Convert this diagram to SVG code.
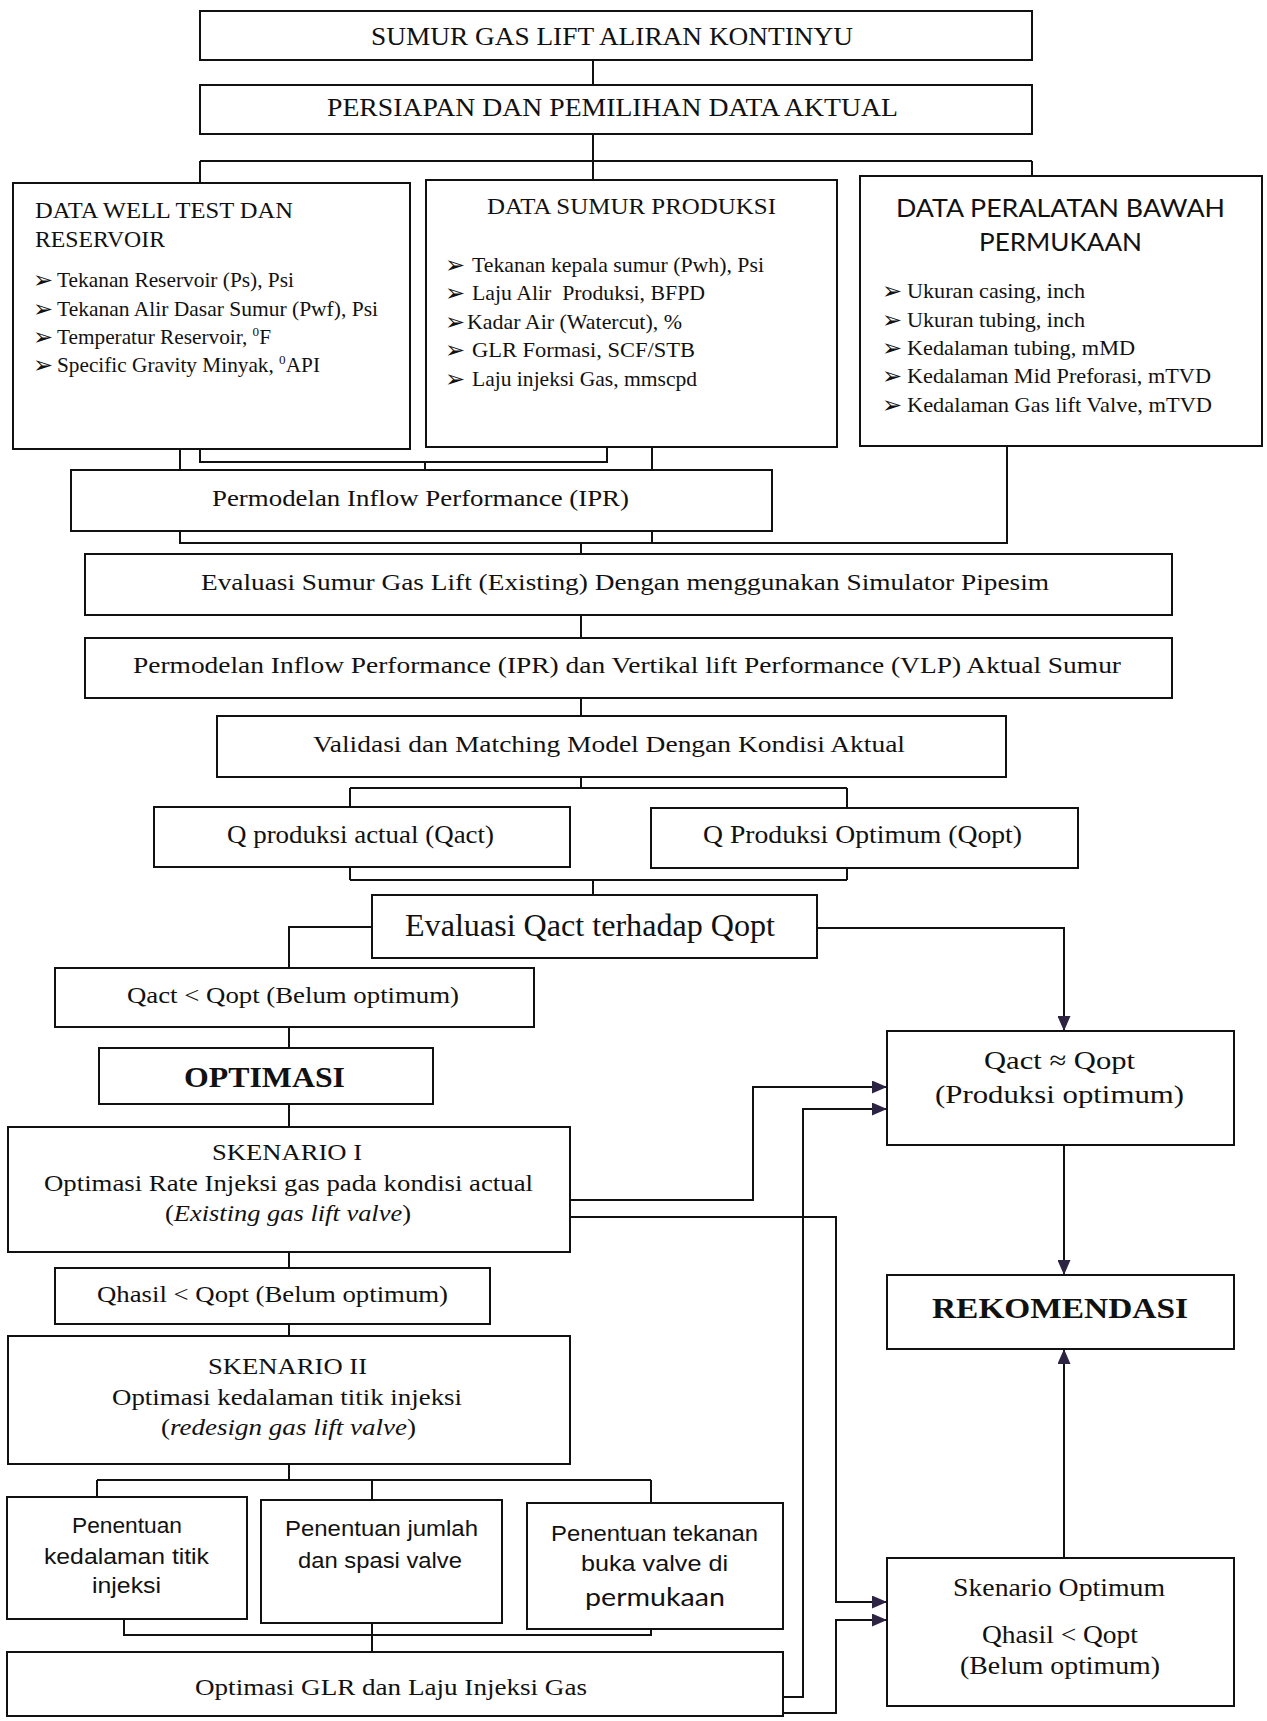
<svg xmlns="http://www.w3.org/2000/svg" width="1267" height="1721" viewBox="0 0 1267 1721">
<style>
.b{fill:#fff;stroke:#111;stroke-width:2}
.c{fill:none;stroke:#111;stroke-width:2}
.a{fill:none;stroke:#111;stroke-width:2;marker-end:url(#ah)}
.t{font-family:"Liberation Serif","Times New Roman",serif;fill:#111}
.s{font-family:"Liberation Sans",Arial,sans-serif;fill:#111}
.k{font-family:Lato,"Liberation Sans",sans-serif;fill:#111}
.u{font-family:"DejaVu Sans",sans-serif;fill:#111;font-size:24px}
</style>
<defs>
<marker id="ah" markerUnits="userSpaceOnUse" markerWidth="15" markerHeight="13" refX="15" refY="6.5" orient="auto">
<path d="M0,0 L15,6.5 L0,13 z" fill="#2d2444"/>
</marker>
</defs>
<g id="connectors">
<path class="c" d="M593,60 V85"/>
<path class="c" d="M593,134 V161 M200,161 H1032 M200,161 V183 M593,161 V180 M1032,161 V176"/>
<path class="c" d="M180,449 V470 M200,449 V462 H607 V447 M425,462 V470 M652,447 V470"/>
<path class="c" d="M180,531 V543 H1007 V446 M652,531 V543 M581,543 V554"/>
<path class="c" d="M581,615 V638 M581,698 V716"/>
<path class="c" d="M581,777 V788 M350,788 H847 M350,788 V807 M847,788 V808"/>
<path class="c" d="M350,867 V880 M847,868 V880 M350,880 H847 M593,880 V895"/>
<path class="c" d="M372,927 H289 V968"/>
<path class="a" d="M817,928 H1064 V1031"/>
<path class="c" d="M289,1027 V1048 M289,1104 V1127 M289,1252 V1268 M289,1324 V1336"/>
<path class="c" d="M289,1464 V1480 M97,1480 H651 M97,1480 V1497 M372,1480 V1500 M651,1480 V1503"/>
<path class="c" d="M124,1619 V1635 H651 V1629 M372,1623 V1652"/>
<path class="a" d="M570,1200 H753 V1087 H887"/>
<path class="a" d="M570,1217 H836 V1602 H887"/>
<path class="a" d="M782,1697 H803 V1109 H887"/>
<path class="a" d="M782,1713 H836 V1620 H887"/>
<path class="a" d="M1064,1145 V1275"/>
<path class="a" d="M1064,1558 V1349"/>
</g>
<g id="n1"><rect class="b" x="200" y="11" width="832" height="49"/>
<text class="t" x="371" y="45" font-size="25" textLength="482" lengthAdjust="spacingAndGlyphs">SUMUR GAS LIFT ALIRAN KONTINYU</text></g>
<g id="n2"><rect class="b" x="200" y="85" width="832" height="49"/>
<text class="t" x="327" y="116" font-size="25" textLength="571" lengthAdjust="spacingAndGlyphs">PERSIAPAN DAN PEMILIHAN DATA AKTUAL</text></g>
<g id="n3"><rect class="b" x="13" y="183" width="397" height="266"/>
<text class="t" x="35" y="218" font-size="23" textLength="258" lengthAdjust="spacingAndGlyphs">DATA WELL TEST DAN</text>
<text class="t" x="35" y="247" font-size="23" textLength="130" lengthAdjust="spacingAndGlyphs">RESERVOIR</text>
<text class="u" x="33" y="288">➢</text><text class="t" x="57" y="287" font-size="21" textLength="237" lengthAdjust="spacingAndGlyphs">Tekanan Reservoir (Ps), Psi</text>
<text class="u" x="33" y="317">➢</text><text class="t" x="57" y="316" font-size="21" textLength="321" lengthAdjust="spacingAndGlyphs">Tekanan Alir Dasar Sumur (Pwf), Psi</text>
<text class="u" x="33" y="345">➢</text><text class="t" x="57" y="344" font-size="21" textLength="214" lengthAdjust="spacingAndGlyphs">Temperatur Reservoir, <tspan font-size="13" dy="-8">0</tspan><tspan dy="8">F</tspan></text>
<text class="u" x="33" y="373">➢</text><text class="t" x="57" y="372" font-size="21" textLength="263" lengthAdjust="spacingAndGlyphs">Specific Gravity Minyak, <tspan font-size="13" dy="-8">0</tspan><tspan dy="8">API</tspan></text>
</g>
<g id="n4"><rect class="b" x="426" y="180" width="411" height="267"/>
<text class="t" x="487" y="214" font-size="23" textLength="289" lengthAdjust="spacingAndGlyphs">DATA SUMUR PRODUKSI</text>
<text class="u" x="445" y="273">➢</text><text class="t" x="472" y="272" font-size="21" textLength="292" lengthAdjust="spacingAndGlyphs">Tekanan kepala sumur (Pwh), Psi</text>
<text class="u" x="445" y="301">➢</text><text class="t" x="472" y="300" font-size="21" textLength="233" lengthAdjust="spacingAndGlyphs" xml:space="preserve">Laju Alir  Produksi, BFPD</text>
<text class="u" x="445" y="330">➢</text><text class="t" x="467" y="329" font-size="21" textLength="215" lengthAdjust="spacingAndGlyphs">Kadar Air (Watercut), %</text>
<text class="u" x="445" y="358">➢</text><text class="t" x="472" y="357" font-size="21" textLength="223" lengthAdjust="spacingAndGlyphs">GLR Formasi, SCF/STB</text>
<text class="u" x="445" y="387">➢</text><text class="t" x="472" y="386" font-size="21" textLength="225" lengthAdjust="spacingAndGlyphs">Laju injeksi Gas, mmscpd</text>
</g>
<g id="n5"><rect class="b" x="860" y="176" width="402" height="270"/>
<text class="k" x="896" y="217" font-size="25" textLength="329" lengthAdjust="spacingAndGlyphs">DATA PERALATAN BAWAH</text>
<text class="k" x="979" y="251" font-size="25" textLength="163" lengthAdjust="spacingAndGlyphs">PERMUKAAN</text>
<text class="u" x="882" y="299">➢</text><text class="t" x="907" y="298" font-size="21" textLength="178" lengthAdjust="spacingAndGlyphs">Ukuran casing, inch</text>
<text class="u" x="882" y="328">➢</text><text class="t" x="907" y="327" font-size="21" textLength="178" lengthAdjust="spacingAndGlyphs">Ukuran tubing, inch</text>
<text class="u" x="882" y="356">➢</text><text class="t" x="907" y="355" font-size="21" textLength="228" lengthAdjust="spacingAndGlyphs">Kedalaman tubing, mMD</text>
<text class="u" x="882" y="384">➢</text><text class="t" x="907" y="383" font-size="21" textLength="304" lengthAdjust="spacingAndGlyphs">Kedalaman Mid Preforasi, mTVD</text>
<text class="u" x="882" y="413">➢</text><text class="t" x="907" y="412" font-size="21" textLength="305" lengthAdjust="spacingAndGlyphs">Kedalaman Gas lift Valve, mTVD</text>
</g>
<g id="n6"><rect class="b" x="71" y="470" width="701" height="61"/>
<text class="t" x="212" y="506" font-size="24" textLength="417" lengthAdjust="spacingAndGlyphs">Permodelan Inflow Performance (IPR)</text></g>
<g id="n7"><rect class="b" x="85" y="554" width="1087" height="61"/>
<text class="t" x="201" y="590" font-size="24" textLength="848" lengthAdjust="spacingAndGlyphs">Evaluasi Sumur Gas Lift (Existing) Dengan menggunakan Simulator Pipesim</text></g>
<g id="n8"><rect class="b" x="85" y="638" width="1087" height="60"/>
<text class="t" x="133" y="673" font-size="24" textLength="988" lengthAdjust="spacingAndGlyphs">Permodelan Inflow Performance (IPR) dan Vertikal lift Performance (VLP) Aktual Sumur</text></g>
<g id="n9"><rect class="b" x="217" y="716" width="789" height="61"/>
<text class="t" x="313" y="752" font-size="24" textLength="592" lengthAdjust="spacingAndGlyphs">Validasi dan Matching Model Dengan Kondisi Aktual</text></g>
<g id="n10"><rect class="b" x="154" y="807" width="416" height="60"/>
<text class="t" x="227" y="843" font-size="25" textLength="267" lengthAdjust="spacingAndGlyphs">Q produksi actual (Qact)</text></g>
<g id="n11"><rect class="b" x="651" y="808" width="427" height="60"/>
<text class="t" x="703" y="843" font-size="25" textLength="319" lengthAdjust="spacingAndGlyphs">Q Produksi Optimum (Qopt)</text></g>
<g id="n12"><rect class="b" x="372" y="895" width="445" height="63"/>
<text class="t" x="405" y="936" font-size="32" textLength="370" lengthAdjust="spacingAndGlyphs">Evaluasi Qact terhadap Qopt</text></g>
<g id="n13"><rect class="b" x="55" y="968" width="479" height="59"/>
<text class="t" x="127" y="1003" font-size="24" textLength="332" lengthAdjust="spacingAndGlyphs">Qact &lt; Qopt (Belum optimum)</text></g>
<g id="n14"><rect class="b" x="99" y="1048" width="334" height="56"/>
<text class="t" x="184" y="1087" font-size="29" font-weight="bold" textLength="161" lengthAdjust="spacingAndGlyphs">OPTIMASI</text></g>
<g id="n15"><rect class="b" x="8" y="1127" width="562" height="125"/>
<text class="t" x="212" y="1160" font-size="24" textLength="150" lengthAdjust="spacingAndGlyphs">SKENARIO I</text>
<text class="t" x="44" y="1191" font-size="24" textLength="489" lengthAdjust="spacingAndGlyphs">Optimasi Rate Injeksi gas pada kondisi actual</text>
<text class="t" x="165" y="1221" font-size="24" textLength="246" lengthAdjust="spacingAndGlyphs">(<tspan font-style="italic">Existing gas lift valve</tspan>)</text></g>
<g id="n16"><rect class="b" x="55" y="1268" width="435" height="56"/>
<text class="t" x="97" y="1302" font-size="24" textLength="351" lengthAdjust="spacingAndGlyphs">Qhasil &lt; Qopt (Belum optimum)</text></g>
<g id="n17"><rect class="b" x="8" y="1336" width="562" height="128"/>
<text class="t" x="208" y="1374" font-size="24" textLength="159" lengthAdjust="spacingAndGlyphs">SKENARIO II</text>
<text class="t" x="112" y="1405" font-size="24" textLength="350" lengthAdjust="spacingAndGlyphs">Optimasi kedalaman titik injeksi</text>
<text class="t" x="161" y="1435" font-size="24" textLength="255" lengthAdjust="spacingAndGlyphs">(<tspan font-style="italic">redesign gas lift valve</tspan>)</text></g>
<g id="n18"><rect class="b" x="7" y="1497" width="240" height="122"/>
<text class="s" x="72" y="1533" font-size="22" textLength="110" lengthAdjust="spacingAndGlyphs">Penentuan</text>
<text class="s" x="44" y="1564" font-size="22" textLength="165" lengthAdjust="spacingAndGlyphs">kedalaman titik</text>
<text class="s" x="92" y="1593" font-size="22" textLength="69" lengthAdjust="spacingAndGlyphs">injeksi</text></g>
<g id="n19"><rect class="b" x="261" y="1500" width="241" height="123"/>
<text class="s" x="285" y="1536" font-size="22" textLength="193" lengthAdjust="spacingAndGlyphs">Penentuan jumlah</text>
<text class="s" x="298" y="1568" font-size="22" textLength="164" lengthAdjust="spacingAndGlyphs">dan spasi valve</text></g>
<g id="n20"><rect class="b" x="527" y="1503" width="256" height="126"/>
<text class="s" x="551" y="1541" font-size="22" textLength="207" lengthAdjust="spacingAndGlyphs">Penentuan tekanan</text>
<text class="s" x="581" y="1571" font-size="22" textLength="147" lengthAdjust="spacingAndGlyphs">buka valve di</text>
<text class="k" x="585" y="1606" font-size="25" textLength="140" lengthAdjust="spacingAndGlyphs">permukaan</text></g>
<g id="n21"><rect class="b" x="7" y="1652" width="776" height="64"/>
<text class="t" x="195" y="1695" font-size="24" textLength="392" lengthAdjust="spacingAndGlyphs">Optimasi GLR dan Laju Injeksi Gas</text></g>
<g id="n22"><rect class="b" x="887" y="1031" width="347" height="114"/>
<text class="t" x="984" y="1069" font-size="26" textLength="151" lengthAdjust="spacingAndGlyphs">Qact ≈ Qopt</text>
<text class="t" x="935" y="1103" font-size="26" textLength="249" lengthAdjust="spacingAndGlyphs">(Produksi optimum)</text></g>
<g id="n23"><rect class="b" x="887" y="1275" width="347" height="74"/>
<text class="t" x="932" y="1318" font-size="29" font-weight="bold" textLength="256" lengthAdjust="spacingAndGlyphs">REKOMENDASI</text></g>
<g id="n24"><rect class="b" x="887" y="1558" width="347" height="148"/>
<text class="t" x="953" y="1596" font-size="26" textLength="212" lengthAdjust="spacingAndGlyphs">Skenario Optimum</text>
<text class="t" x="982" y="1643" font-size="26" textLength="156" lengthAdjust="spacingAndGlyphs">Qhasil &lt; Qopt</text>
<text class="t" x="960" y="1674" font-size="26" textLength="200" lengthAdjust="spacingAndGlyphs">(Belum optimum)</text></g>
</svg>
